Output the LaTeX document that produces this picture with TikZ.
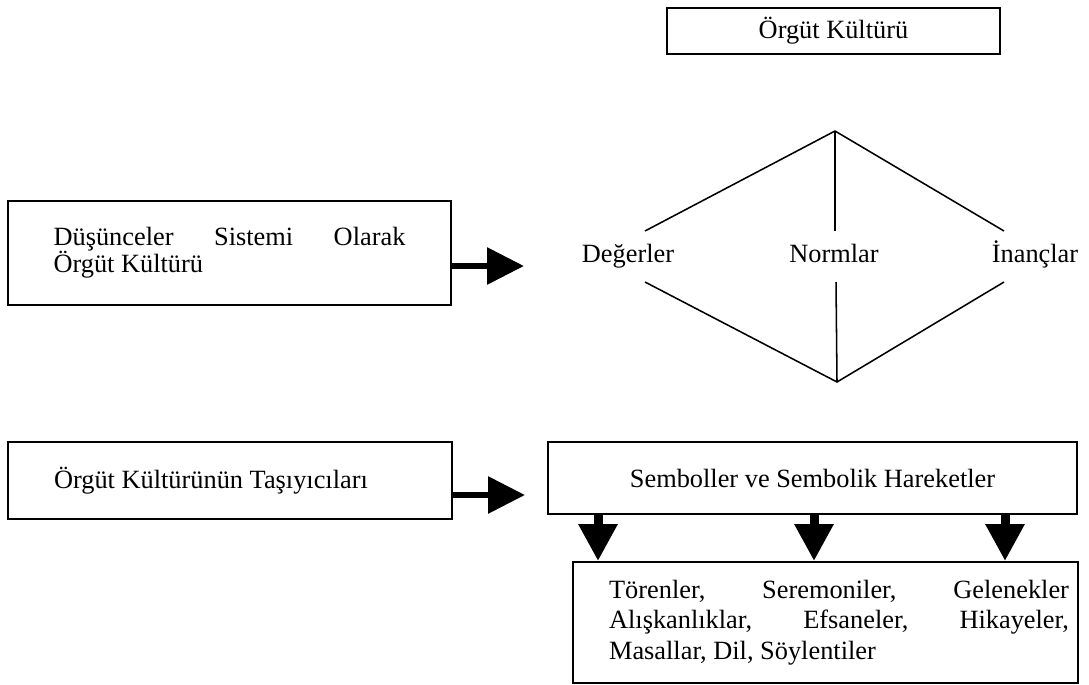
\documentclass[tikz,border=0pt]{standalone}
\usepackage{fontspec}
\setmainfont{Liberation Serif}
\usetikzlibrary{arrows.meta}

\newcommand{\px}{0.016cm}

\begin{document}
\begin{tikzpicture}[
    x=\px, y=-\px,
    box/.style={draw=black, line width=0.9pt, inner sep=0pt, font=\fontsize{12}{13.5}\selectfont},
    wordlabel/.style={font=\fontsize{12}{13.5}\selectfont, anchor=base, inner sep=0pt},
    spoke/.style={line width=0.7pt},
    sidearrow/.style={-{Triangle[length=16.8pt, width=16.3pt]}, line width=2.9pt},
    downarrow/.style={-{Triangle[length=16.8pt, width=16.8pt]}, line width=4.1pt},
]

\useasboundingbox (0,0) rectangle (1089,684);

% ══════════════════════════════════════
% TOP: title box
% ══════════════════════════════════════
\node[box, minimum width=5.328cm, minimum height=0.736cm] (kultur) at (833.5, 31) {Örgüt Kültürü};

% ══════════════════════════════════════
% ROW 1: ideas -> values / norms / beliefs
% ══════════════════════════════════════
\node[box, minimum width=7.088cm, minimum height=1.664cm] (dusunce) at (229.5, 253)
    {\parbox{5.632cm}{\fontsize{12}{12.4}\selectfont Düşünceler\hfill Sistemi\hfill Olarak\\ Örgüt Kültürü}};

\coordinate (tip1) at (524, 266);
\draw[sidearrow] (dusunce.east |- tip1) -- (tip1);

\node[wordlabel] (deger) at (628, 262) {Değerler};
\node[wordlabel] (norm) at (834, 262) {Normlar};
\node[wordlabel] (inanc) at (1035, 262) {İnançlar};

% diamond
\coordinate (dtop) at (835, 131);
\coordinate (dbot) at (837, 382);
\coordinate (dl1) at (645, 231);
\coordinate (dl2) at (645, 282);
\coordinate (dm1) at (835, 231);
\coordinate (dm2) at (836, 282);
\coordinate (dr1) at (1004, 231);
\coordinate (dr2) at (1004, 282);

\draw[spoke] (dl1) -- (dtop) -- (dr1);
\draw[spoke] (dtop) -- (dm1);
\draw[spoke] (dl2) -- (dbot) -- (dr2);
\draw[spoke] (dm2) -- (dbot);

% ══════════════════════════════════════
% ROW 2: carriers -> symbols -> examples
% ══════════════════════════════════════
\node[box, minimum width=7.104cm, minimum height=1.232cm] (tasiyici) at (230, 480.5)
    {\parbox{5.632cm}{Örgüt Kültürünün Taşıyıcıları}};

\node[box, minimum width=8.464cm, minimum height=1.152cm] (sembol) at (812.5, 478)
    {Semboller ve Sembolik Hareketler};

\coordinate (tip2) at (525, 495);
\draw[sidearrow] (tasiyici.east |- tip2) -- (tip2);

\node[box, minimum width=8.08cm, minimum height=1.936cm] (ornek) at (825.5, 622.5)
    {\hspace*{0.432cm}\parbox{7.36cm}{\fontsize{12}{14}\selectfont Törenler,\hfill Seremoniler,\hfill Gelenekler\\
      Alışkanlıklar,\hfill Efsaneler,\hfill Hikayeler,\\ Masallar, Dil, Söylentiler}};

\foreach \ax [count=\i] in {598, 814, 1005} {
    \coordinate (ax\i) at (\ax, 0);
    \draw[downarrow] (sembol.south -| ax\i) -- (ornek.north -| ax\i);
}

\end{tikzpicture}
\end{document}
